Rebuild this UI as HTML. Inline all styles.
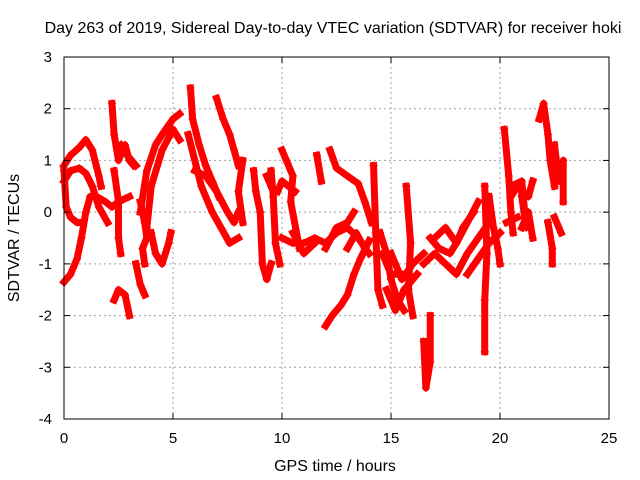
<!DOCTYPE html>
<html><head><meta charset="utf-8"><style>
body{margin:0;background:#fff}
svg{display:block;font-family:"Liberation Sans",Arial,sans-serif}
</style></head><body>
<svg id="chart" width="640" height="480" viewBox="0 0 640 480">
<rect width="640" height="480" fill="#fff"/>
<text x="333" y="33" font-size="16" text-anchor="middle" fill="#000">Day 263 of 2019, Sidereal Day-to-day VTEC variation (SDTVAR) for receiver hoki</text>
<g id="grid"></g>
<g id="marks"></g>
<rect x="64" y="57" width="545" height="362" fill="none" stroke="#000" stroke-width="1"/>
<g id="ticks"></g>
<text x="335" y="471" font-size="16" text-anchor="middle">GPS time / hours</text>
<text transform="translate(19,238) rotate(-90)" font-size="16" text-anchor="middle">SDTVAR / TECUs</text>
</svg>
<script>
const xTicks=[0,5,10,15,20,25];
const yTicks=[3,2,1,0,-1,-2,-3,-4];
const tracksT=[
[0,0.3,0.7,1,1.3,1.6,1.7],
[0,0.3,0.7,1,1.3,1.6,2],
[0,0.3,0.6,0.8,1.0,1.2,1.5,1.9,2.2,2.5,3],
[0,0.1,0.3,0.6,0.8],
[2.2,2.3,2.5,2.8,3.0,3.2],
[2.3,2.5,2.5,2.6],
[2.3,2.5,2.8,3.0],
[3.3,3.5,3.7],
[3.5,3.8,4.2,4.5,5,5.3],
[3.8,4.0,4.5,5,5.3],
[4.0,4.2,4.5,4.8,4.9],
[3.5,3.7,3.8,3.6,3.7],
[5.8,5.9,6.2,6.5,6.8,7.1],
[5.7,6.3,6.8,7.2,7.6,8],
[6,6.5,7,7.5,7.8,8],
[7.0,7.3,7.6,7.8,8.0],
[8.2,8.0,8.2],
[8.7,8.8,9.0,9.1,9.3,9.5],
[9.5,9.6,9.7,9.9],
[9.8,10,10.3,10.6],
[10.0,10.2,10.5,10.4,10.8],
[10,10.5,11,11.5,12,12.5,13,13.5,14],
[12,12.5,13,13.3],
[11.6,11.8],
[12.2,12.5,13,13.5,13.8,14.1],
[12,12.3,12.7,13,13.3,13.6,14],
[13,13.4,13.8],
[14.2,14.3,14.4,14.6],
[14.5,14.8,15.0,15.3,15.6],
[14.6,15,15.5],
[15.7,15.9,15.8,16],
[16.5,16.6,16.8,16.8],
[16.5,17,17.5,18,18.5,19,19.5],
[16.8,17.2,17.7,18,18.3,18.8],
[19.3,19.4,19.3,19.3],
[19.5,19.7,19.9,20],
[20.2,20.4,20.5,20.6],
[20.5,20.8,21,21.3,21.5],
[21.0,21.3,21.5],
[21.8,22,22.2,22.3,22.5],
[22.2,22.4,22.4],
[22.5,22.7,22.9,22.9],
[22.5,22.8],
[15,15.5,16,16.5],
[17,17.5,18,18.5,19],
[18.5,19,19.5,20],
[20.5,21,21.2,21],
[20.3,20.8],
[9.3,9.5],
[2.6,2.9,3.3],
[10.5,11,11.5],
[14.8,15.2,15.6,16.2]
];
const tracksV=[
[0.9,1.1,1.25,1.4,1.2,0.7,0.5],
[0.6,0.8,0.85,0.75,0.5,0.1,-0.2],
[-1.35,-1.2,-0.9,-0.5,0,0.3,0.3,0.2,0.1,0.2,0.3],
[0.8,0.1,-0.1,-0.2,-0.2],
[2.1,1.5,1.0,1.3,1.0,0.9],
[0.8,0.2,-0.5,-0.8],
[-1.7,-1.5,-1.6,-2.0],
[-1.0,-1.4,-1.6],
[0,0.8,1.3,1.5,1.8,1.9],
[-0.3,0.5,1.2,1.6,1.4],
[-0.4,-0.8,-1.0,-0.6,-0.4],
[0.2,-0.2,-0.5,-0.7,-1.0],
[2.4,1.8,1.3,0.9,0.6,0.3],
[1.5,0.5,0.0,-0.3,-0.6,-0.5],
[0.8,0.7,0.4,0,-0.2,0],
[2.2,1.8,1.5,1.2,0.9],
[1.0,0.4,-0.2],
[0.8,0.4,0,-1.0,-1.3,-1.0],
[0.8,0.3,-0.6,-1.0],
[0.4,0.6,0.5,0.4],
[1.2,1.0,0.7,0.2,-0.7],
[-0.5,-0.6,-0.6,-0.5,-0.6,-0.4,-0.3,-0.5,-0.8],
[-0.7,-0.3,-0.2,0.0],
[1.1,0.6],
[1.2,0.85,0.7,0.55,0.2,-0.2],
[-2.2,-2.0,-1.8,-1.6,-1.2,-0.9,-0.55],
[-0.7,-0.4,-0.7],
[0.9,-0.4,-1.5,-1.8],
[-0.4,-0.8,-1.3,-1.7,-1.9],
[-0.8,-1.2,-1.2],
[0.5,-0.6,-1.5,-2.0],
[-2.5,-3.4,-2.9,-2.0],
[-1.0,-0.8,-1.0,-1.2,-0.8,-0.5,-0.2],
[-0.5,-0.7,-0.8,-0.6,-0.3,0.0],
[0.5,-0.8,-1.7,-2.7],
[0.3,-0.3,-0.7,-1.0],
[1.6,0.7,0,-0.4],
[0.3,0.5,0.4,0.3,0.6],
[-0.3,0,-0.5],
[1.8,2.1,1.5,1.0,0.5],
[-0.2,-0.7,-1.0],
[1.3,0.6,1.0,0.2],
[-0.1,-0.4],
[-0.8,-1.3,-1.0,-0.8],
[-0.5,-0.3,-0.6,-0.2,0.2],
[-1.2,-0.9,-0.6,-0.4],
[0.5,0.6,-0.3,0.3],
[-0.2,-0.1],
[0.7,0.5],
[1.3,1.1,0.9],
[-0.4,-0.8,-0.6],
[-1.5,-1.9,-1.5,-1.2]
];
const X0=64,X1=609,Y0=419,Y1=57;
function xs(t){return X0+(t-0)/(25-0)*(X1-X0);}
function ys(v){return Y0-(v+4)/(3+4)*(Y0-Y1);}
const NS='http://www.w3.org/2000/svg';
const grid=document.getElementById('grid'),ticks=document.getElementById('ticks'),marks=document.getElementById('marks');
function mk(tag,attrs,parent){const e=document.createElementNS(NS,tag);for(const k in attrs)e.setAttribute(k,attrs[k]);parent.appendChild(e);return e;}
xTicks.forEach(t=>{const x=xs(t);
 if(t>0&&t<25){const g=mk('line',{x1:x,x2:x,y1:Y1,y2:Y0,stroke:'#a0a0a0','stroke-dasharray':'2,3'},grid);
 
 }
 const l=mk('line',{x1:x,x2:x,y1:Y0,y2:Y0-6,stroke:'#000'},ticks);
 
 
 const l2=mk('line',{x1:x,x2:x,y1:Y1,y2:Y1+6,stroke:'#000'},ticks);
 
 
 const tx=mk('text',{x:x,y:443,'font-size':15,'text-anchor':'middle'},ticks);tx.textContent=t;
 
 
});
yTicks.forEach(v=>{const y=ys(v);
 if(v<3&&v>-4){const g=mk('line',{x1:X0,x2:X1,y1:y,y2:y,stroke:'#a0a0a0','stroke-dasharray':'2,3'},grid);
 
 }
 const l=mk('line',{x1:X0,x2:X0+6,y1:y,y2:y,stroke:'#000'},ticks);
 
 
 const l2=mk('line',{x1:X1,x2:X1-6,y1:y,y2:y,stroke:'#000'},ticks);
 
 
 const tx=mk('text',{x:52,y:y+5,'font-size':15,'text-anchor':'end'},ticks);tx.textContent=v;
 
 
});
tracksT.forEach((ts,i)=>{const vs=tracksV[i];
 const pts=ts.map((t,j)=>xs(t)+','+ys(vs[j])).join(' ');
 const p=mk('polyline',{points:pts,fill:'none',stroke:'#ff0000','stroke-width':7,'stroke-linejoin':'round','stroke-linecap':'square'},marks);
 
 
 ts.forEach((t,j)=>{const x=xs(t),y=ys(vs[j]);
  const m=mk('path',{d:`M${x-4},${y}H${x+4}M${x},${y-4}V${y+4}`,stroke:'#ff0000','stroke-width':1.2},marks);
  
  
 });
});
</script>
</body></html>
